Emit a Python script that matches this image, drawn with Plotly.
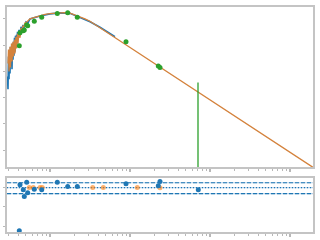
import plotly.graph_objects as go

# Observed spectrum (wavelength in micron, log flux)
obs_wl = [0.294, 0.2985, 0.3029, 0.3073, 0.3118, 0.3162, 0.3208, 0.3255, 0.3302, 0.3350,
          0.3399, 0.3448, 0.3498, 0.3548, 0.3600, 0.3652, 0.3705, 0.3758, 0.3813, 0.3868,
          0.3924, 0.3981, 0.4097, 0.4217, 0.4340, 0.4467, 0.4597, 0.4732, 0.5012, 0.5309,
          0.5623, 0.6494, 0.7499, 1.0, 1.334, 1.778, 2.371, 3.162, 4.217, 4.870, 5.623, 6.494]
obs_flux = [-11.19, -11.68, -10.43, -11.30, -10.25, -11.08, -10.06, -10.81, -10.17, -10.92,
            -9.94, -10.55, -9.87, -10.40, -9.72, -10.25, -9.64, -10.06, -9.60, -9.94,
            -9.49, -9.79, -9.42, -9.64, -9.30, -9.49, -9.23, -9.34, -9.11, -9.15,
            -9.00, -8.94, -8.89, -8.81, -8.77, -8.79, -8.94, -9.11, -9.32, -9.43, -9.55, -9.68]

# Model spectrum
mod_wl = [0.2985, 0.3029, 0.3073, 0.3118, 0.3162, 0.3208, 0.3255, 0.3302, 0.3350, 0.3399,
          0.3448, 0.3498, 0.3548, 0.3600, 0.3652, 0.3705, 0.3758, 0.3813, 0.3868, 0.3924,
          0.3981, 0.4039, 0.4097, 0.4217, 0.4278, 0.4340, 0.4467, 0.4597, 0.4732, 0.4870,
          0.5158, 0.5623, 0.6130, 0.6683, 0.7499, 0.8660, 1.0, 1.155, 1.334, 1.540,
          1.778, 2.054, 2.371, 2.738, 3.162, 4.217, 5.623, 7.499, 74.99, 2000.0]
mod_flux = [-10.70, -10.17, -11.00, -10.43, -10.06, -10.85, -10.25, -9.94, -10.62, -10.13,
            -9.87, -10.43, -9.98, -9.79, -10.32, -9.87, -9.68, -10.13, -9.72, -9.57,
            -9.94, -9.60, -9.49, -9.72, -9.42, -9.34, -9.49, -9.26, -9.30, -9.15,
            -9.11, -9.00, -8.96, -8.92, -8.87, -8.83, -8.80, -8.78, -8.77, -8.76,
            -8.78, -8.85, -8.92, -9.00, -9.09, -9.34, -9.58, -9.85, -11.84, -14.68]

# Photometry
phot_wl = [0.4133, 0.4217, 0.4637, 0.4773, 0.5112, 0.5263, 0.6363, 0.7876, 1.234, 1.664,
           2.194, 8.913, 22.58, 23.71]
phot_flux = [-10.02, -9.53, -9.45, -9.42, -9.23, -9.26, -9.09, -8.94, -8.79, -8.77,
             -8.94, -9.87, -10.79, -10.85]

# Upper limit
ul_wl = [70.79, 70.79]
ul_flux = [-11.42, -15.0]

# Residuals
res_wl = [0.4133, 0.4217, 0.4637, 0.4773, 0.5112, 0.5263, 0.6363, 0.7876, 1.234, 1.664,
          2.194, 8.913, 22.58, 23.71, 71.40]
res_val = [-2.23, 0.14, -0.12, -0.47, 0.27, -0.27, -0.10, -0.12, 0.27, 0.04,
           0.04, 0.19, 0.09, 0.31, -0.12]
synth_wl = [0.5511, 0.6183, 0.7499, 0.8013, 3.419, 4.638, 12.34, 23.71]
synth_val = [0.0, 0.0, 0.0, 0.0, 0.0, 0.0, 0.0, -0.015]

band_hi, band_mid, band_lo = 0.24, -0.015, -0.32

major = [1, 10, 100, 1000]
minor = [m * d for d in [0.1, 1, 10, 100, 1000] for m in range(2, 10)]

BLUE, ORANGE, GREEN = "#1f77b4", "#ff7f0e", "#2ca02c"
SPINE = "#c4c4c4"
TICK = "#b8b8b8"

fig = go.Figure()
fig.add_trace(go.Scatter(x=obs_wl, y=obs_flux, mode="lines",
                         line=dict(color=BLUE, width=1.6), xaxis="x", yaxis="y"))
fig.add_trace(go.Scatter(x=mod_wl, y=mod_flux, mode="lines",
                         line=dict(color="#d4823c", width=1.3), xaxis="x", yaxis="y"))
fig.add_trace(go.Scatter(x=ul_wl, y=ul_flux, mode="lines",
                         line=dict(color=GREEN, width=1.3), xaxis="x", yaxis="y"))
fig.add_trace(go.Scatter(x=phot_wl, y=phot_flux, mode="markers",
                         marker=dict(color=GREEN, size=5), xaxis="x", yaxis="y"))

fig.add_trace(go.Scatter(x=synth_wl, y=synth_val, mode="markers",
                         marker=dict(color=ORANGE, size=5, opacity=0.6),
                         xaxis="x2", yaxis="y2"))
fig.add_trace(go.Scatter(x=res_wl, y=res_val, mode="markers", cliponaxis=False,
                         marker=dict(color=BLUE, size=5), xaxis="x2", yaxis="y2"))

shapes = []
for yv in [band_mid, band_hi, band_lo]:
    shapes.append(dict(type="line", xref="x2 domain", yref="y2", x0=0, x1=1, y0=yv, y1=yv,
                       line=dict(color="#b9d3ea", width=1.2), layer="below"))
for yv, dash in [(band_mid, "1px,2px"), (band_hi, "4px,2px"), (band_lo, "4px,2px")]:
    shapes.append(dict(type="line", xref="x2 domain", yref="y2", x0=0, x1=1, y0=yv, y1=yv,
                       line=dict(color=BLUE, width=1.2, dash=dash), layer="below"))

def xax(anchor):
    return dict(type="log", range=[-0.5375, 3.2875], anchor=anchor,
                showline=True, linecolor=SPINE, linewidth=2, mirror=True,
                ticks="outside", tickvals=major, ticklen=3, tickwidth=2, tickcolor=TICK,
                showticklabels=False, showgrid=False, zeroline=False,
                minor=dict(tickvals=minor, ticks="outside", ticklen=2, tickwidth=1,
                           tickcolor=TICK, showgrid=False))

def yax(anchor, dom, rng, tv):
    return dict(domain=dom, range=rng, anchor=anchor,
                showline=True, linecolor=SPINE, linewidth=2, mirror=True,
                ticks="outside", tickvals=tv, ticklen=2, tickwidth=1, tickcolor=TICK,
                showticklabels=False, showgrid=False, zeroline=False)

fig.update_layout(
    width=320, height=240,
    margin=dict(l=7, r=7, t=5, b=8),
    paper_bgcolor="white", plot_bgcolor="white",
    showlegend=False,
    xaxis=xax("y"),
    yaxis=yax("x", [0.2885, 1.0], [-14.642, -8.547], [-9, -10, -11, -12, -13, -14]),
    xaxis2=xax("y2"),
    yaxis2=yax("x2", [0.0, 0.2401], [-2.296, 0.485], [0, -1, -2]),
    shapes=shapes,
)

fig.write_html("out.html")
